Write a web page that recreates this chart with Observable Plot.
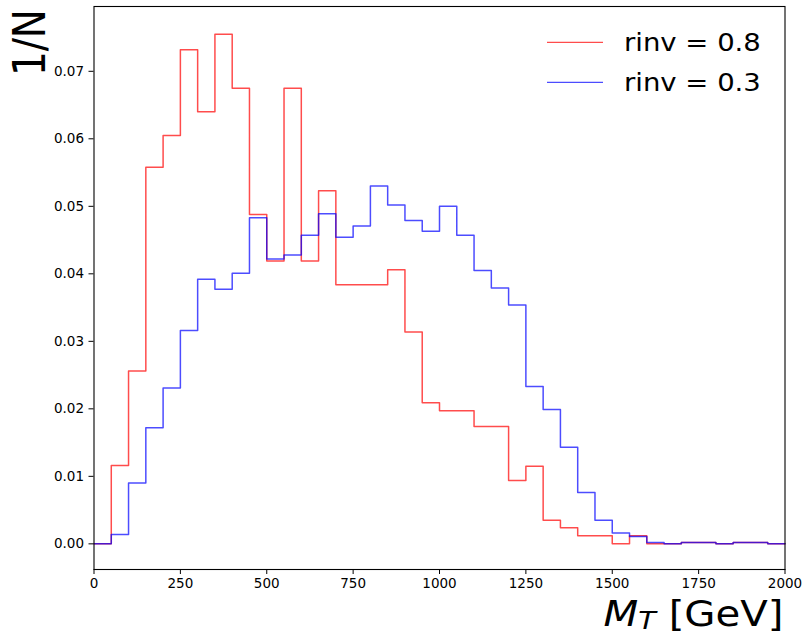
<!DOCTYPE html>
<html>
<head>
<meta charset="utf-8">
<script src="https://cdn.jsdelivr.net/npm/d3@7"></script>
<script src="https://cdn.jsdelivr.net/npm/@observablehq/plot@0.6"></script>
<style>
  html, body { margin: 0; padding: 0; background: #fff; }
  svg { display: block; }
</style>
</head>
<body>
<div id="chart"></div>
<script>
// Bin lower edges (GeV), bin width 50, range 0–2000
const binStart = [0,50,100,150,200,250,300,350,400,450,500,550,600,650,700,750,800,850,900,950,
  1000,1050,1100,1150,1200,1250,1300,1350,1400,1450,1500,1550,1600,1650,1700,1750,1800,1850,1900,1950];
const binEnd = 2000;

// rinv = 0.8 (red)
const rinv08 = [0,0.0116,0.0256,0.0558,0.0605,0.0732,0.0640,0.0755,0.0675,0.0488,
  0.0419,0.0675,0.0419,0.0523,0.0384,0.0384,0.0384,0.0406,0.0314,0.0209,
  0.0197,0.0197,0.0174,0.0174,0.0094,0.0115,0.0035,0.0024,0.0012,0.0012,
  0.0,0.0012,0.0,0.0,0.0002,0.0002,0.0,0.0002,0.0002,0.0];

// rinv = 0.3 (blue)
const rinv03 = [0,0.0014,0.0090,0.0172,0.0231,0.0316,0.0392,0.0377,0.0401,0.0483,
  0.0422,0.0428,0.0457,0.0489,0.0454,0.0471,0.0530,0.0502,0.0479,0.0463,
  0.0500,0.0457,0.0405,0.0379,0.0354,0.0233,0.0199,0.0143,0.0076,0.0035,
  0.0016,0.0011,0.0002,0.0,0.0002,0.0002,0.0,0.0002,0.0002,0.0];

const seriesNames = ["rinv = 0.8", "rinv = 0.3"];
const seriesColors = ["red", "blue"];
const xTicks = [0,250,500,750,1000,1250,1500,1750,2000];
const yTicks = [0,0.01,0.02,0.03,0.04,0.05,0.06,0.07];

function stepData(vals) {
  const pts = binStart.map((x, i) => ({x, y: vals[i]}));
  pts.push({x: binEnd, y: vals[vals.length - 1]});
  return pts;
}

(function () {
  const W = 804, H = 635;
  const chart = Plot.plot({
    width: W,
    height: H,
    marginLeft: 93.5,
    marginRight: 19.5,
    marginTop: 6,
    marginBottom: 66,
    style: {fontFamily: "DejaVu Sans", fontSize: "13.5px", color: "black", background: "white"},
    x: {domain: [0, 2000]},
    y: {domain: [-0.0038, 0.0796]},
    marks: [
      Plot.line(stepData(rinv08), {x: "x", y: "y", curve: "step-after", stroke: seriesColors[0], strokeOpacity: 0.7, strokeWidth: 1.5}),
      Plot.line(stepData(rinv03), {x: "x", y: "y", curve: "step-after", stroke: seriesColors[1], strokeOpacity: 0.7, strokeWidth: 1.5}),
      Plot.frame({stroke: "black", strokeWidth: 1.1}),
      Plot.axisX({ticks: xTicks, tickSize: 5, tickPadding: 4, label: null, tickFormat: d3.format("d")}),
      Plot.axisY({ticks: yTicks, tickSize: 5, tickPadding: 5, label: null, tickFormat: d3.format(".2f")})
    ]
  });

  document.getElementById("chart").appendChild(chart);

  const svg = d3.select(chart);
  const xs = chart.scale("x"), ys = chart.scale("y");
  const frameLeft = xs.range[0], frameRight = xs.range[1];
  const frameTop = ys.range[1];

  // y label "1/N" (rotated, top-aligned)
  svg.append("text")
    .attr("transform", `translate(${frameLeft - 49},${frameTop + 3}) rotate(-90) scale(1,1.15)`)
    .attr("text-anchor", "end")
    .attr("font-family", "DejaVu Sans")
    .attr("font-size", 39)
    .attr("fill", "black")
    .text("1/N");

  // x label "M_T [GeV]" (right-aligned)
  const xl = svg.append("text")
    .attr("transform", `translate(${frameRight - 1},626) scale(1.15,1)`)
    .attr("x", 0)
    .attr("y", 0)
    .attr("text-anchor", "end")
    .attr("font-family", "DejaVu Sans")
    .attr("font-size", 35)
    .attr("fill", "black");
  xl.append("tspan").attr("font-style", "italic").text("M");
  xl.append("tspan").attr("font-style", "italic").attr("font-size", 25).attr("dy", 3).text("T");
  xl.append("tspan").attr("dy", -3).text(" [GeV]");

  // legend
  const lg = svg.append("g");
  seriesNames.forEach((name, i) => {
    const cy = 42.3 + i * 40;
    lg.append("line")
      .attr("x1", 547).attr("x2", 603).attr("y1", cy).attr("y2", cy)
      .attr("stroke", seriesColors[i]).attr("stroke-opacity", 0.7).attr("stroke-width", 1.3);
    lg.append("text")
      .attr("transform", `translate(624,${cy}) scale(1.1,1)`)
      .attr("dy", "0.36em")
      .attr("text-anchor", "start")
      .attr("font-family", "DejaVu Sans")
      .attr("font-size", 25)
      .attr("fill", "black")
      .text(name);
  });
})();
</script>
</body>
</html>
